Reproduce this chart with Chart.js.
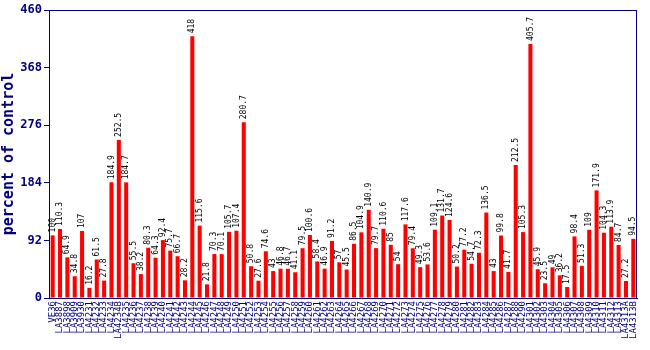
<!DOCTYPE html>
<html><head><meta charset="utf-8">
<script src="https://cdn.jsdelivr.net/npm/chart.js@4/dist/chart.umd.min.js"></script>
<style>html,body{margin:0;padding:0;background:#fff}canvas{display:block}</style>
</head><body>
<canvas id="c" width="650" height="350"></canvas>
<script>
const categories = ["VE36","LA3887","LA3898","LA3909","LA3930","LA4231","LA4232","LA4233","LA4234","LA4234B","LA4235","LA4236","LA4237","LA4238","LA4239","LA4240","LA4241","LA4242","LA4243","LA4244","LA4245","LA4246","LA4247","LA4248","LA4249","LA4250","LA4251","LA4252","LA4253","LA4254","LA4255","LA4256","LA4257","LA4258","LA4259","LA4260","LA4261","LA4262","LA4263","LA4264","LA4265","LA4266","LA4267","LA4268","LA4269","LA4270","LA4271","LA4272","LA4273","LA4274","LA4275","LA4276","LA4277","LA4278","LA4279","LA4280","LA4281","LA4282","LA4283","LA4284","LA4285","LA4286","LA4287","LA4288","LA4290","LA4301","LA4302","LA4303","LA4304","LA4305","LA4306","LA4307","LA4308","LA4309","LA4310","LA4311","LA4312","LA4313","LA4313A","LA4313B"];
const values = [100,110.3,64.9,34.8,107,16.2,61.5,27.8,184.9,252.5,184.7,55.5,38.2,80.3,64.3,92.4,75.7,66.7,28.2,418,115.6,21.8,70.3,70.1,105.7,107.4,280.7,50.8,27.6,74.6,43,46.8,46.7,41.1,79.5,100.6,58.4,46.9,91.2,57,45.5,86.5,104.9,140.9,79.7,110.6,85,54,117.6,79.4,49.3,53.6,109.1,131.7,124.6,50.2,77.2,54.7,72.3,136.5,43,99.8,41.7,212.5,105.3,405.7,45.9,23.5,49,36.2,17.5,98.4,51.3,109,171.9,104.3,113.9,84.7,27.2,94.5];
const yTicks = [0,92,184,276,368,460];
const NAVY = '#000080';

const framePlugin = {
  id: 'frame',
  afterDatasetsDraw(chart) {
    const {ctx, chartArea: a} = chart;
    ctx.save();
    ctx.strokeStyle = NAVY; ctx.lineWidth = 1;
    ctx.strokeRect(a.left + 0.5, a.top + 0.5, a.right - a.left - 1, a.bottom - a.top);
    const meta = chart.getDatasetMeta(0);
    ctx.fillStyle = '#000';
    ctx.font = '8px "DejaVu Sans Mono", monospace';
    ctx.textAlign = 'left'; ctx.textBaseline = 'middle';
    meta.data.forEach((bar, i) => {
      ctx.save();
      ctx.translate(bar.x, bar.y - 3);
      ctx.rotate(-Math.PI / 2);
      ctx.fillText(String(values[i]), 0, 0);
      ctx.restore();
    });
    ctx.restore();
  }
};

new Chart(document.getElementById('c'), {
  type: 'bar',
  data: { labels: categories, datasets: [{ data: values, backgroundColor: '#ff0000', borderWidth: 0, barPercentage: 0.55, categoryPercentage: 1 }] },
  options: {
    responsive: false, animation: false, devicePixelRatio: 1,
    layout: { padding: { top: 10, right: 13, left: 0, bottom: 0 } },
    plugins: { legend: { display: false }, tooltip: { enabled: false } },
    scales: {
      x: {
        grid: { display: false, drawTicks: false },
        border: { color: NAVY },
        afterFit(s) { s.height = 52; },
        ticks: { autoSkip: false, minRotation: 90, maxRotation: 90, padding: 3, color: NAVY,
          font: { family: '"DejaVu Sans Mono", monospace', size: 9 } }
      },
      y: {
        min: 0, max: 460,
        afterBuildTicks(s) { s.ticks = yTicks.map(v => ({ value: v })); },
        afterFit(s) { s.width = 49; },
        grid: { drawOnChartArea: false, color: NAVY, tickLength: 5 },
        border: { color: NAVY },
        ticks: { color: NAVY, padding: 2, font: { family: '"DejaVu Sans Mono", monospace', size: 12, weight: 'bold' } },
        title: { display: true, text: 'percent of control', color: NAVY, padding: 0,
          font: { family: '"DejaVu Sans Mono", monospace', size: 15, weight: 'bold' } }
      }
    }
  },
  plugins: [framePlugin]
});
</script>
</body></html>
